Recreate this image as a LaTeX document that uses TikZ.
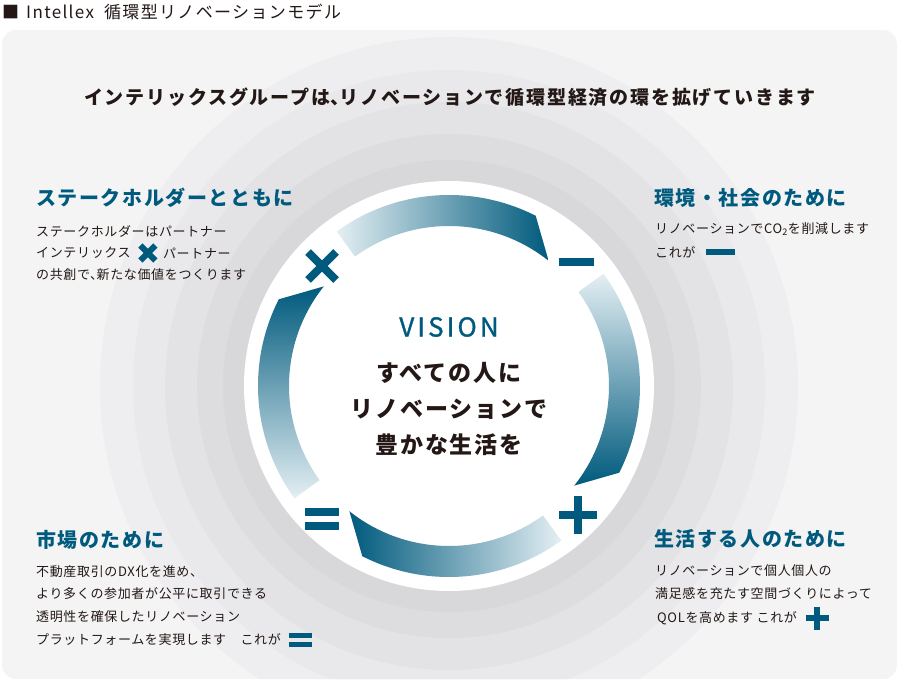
\documentclass[tikz,border=0pt]{standalone}
\usepackage{fontspec}
\setmainfont{Noto Sans CJK JP}
\usepackage{tikz}
\usetikzlibrary{positioning}

\definecolor{brand}{HTML}{005A7D}
\definecolor{ink}{HTML}{231815}
\definecolor{arclight}{HTML}{E4EFF3}
\definecolor{arcmid}{HTML}{3A8099}
\definecolor{arcdark}{HTML}{005A7D}
\definecolor{panelbg}{HTML}{F4F4F5}
\definecolor{ringA}{HTML}{EEEEF0}
\definecolor{ringB}{HTML}{E9E9EB}
\definecolor{ringC}{HTML}{E3E3E5}
\definecolor{ringD}{HTML}{DDDDDF}
\definecolor{ringE}{HTML}{D8D8DA}

\newcommand{\titlefont}{\fontsize{17}{20}\selectfont\addfontfeatures{LetterSpace=8}}
\newcommand{\leadfont}{\fontsize{19}{23}\selectfont\bfseries\addfontfeatures{LetterSpace=9.5}}
\newcommand{\headfont}{\fontsize{20}{24}\selectfont\bfseries\addfontfeatures{LetterSpace=8}}
\newcommand{\bodyfont}{\fontsize{13}{16}\selectfont\addfontfeatures{LetterSpace=5}}
\newcommand{\visionfont}{\fontsize{26}{30}\selectfont\addfontfeatures{LetterSpace=12,FakeBold=1.2}}
\newcommand{\centerfont}{\fontsize{23}{28}\selectfont\bfseries\addfontfeatures{LetterSpace=8}}
% ponctuation demi-chasse
\newcommand{\tou}{{\addfontfeatures{RawFeature=+halt}、}}

\tikzstyle{head}=[anchor=west,inner sep=0pt,text=brand,font=\headfont]
\tikzstyle{body}=[anchor=west,inner sep=0pt,text=ink,font=\bodyfont]
\tikzstyle{symline}=[draw=brand,line cap=butt]

\tikzset{
  pics/crossmark/.style={code={\draw[symline] (-#1,-#1)--(#1,#1) (-#1,#1)--(#1,-#1);}},
  pics/minusmark/.style={code={\draw[symline] (-#1,0)--(#1,0);}},
  pics/plusmark/.style={code={\draw[symline] (-#1,0)--(#1,0) (0,-#1)--(0,#1);}},
  pics/equalmark/.style={code={\draw[symline] (-#1,0.4*#1)--(#1,0.4*#1) (-#1,-0.4*#1)--(#1,-0.4*#1);}}
}

\begin{document}
\begin{tikzpicture}[x=1pt,y=1pt]

  \useasboundingbox (0,0) rectangle (898,-685);
  \fill[white] (0,0) rectangle (898,-685);

  % fond et anneaux
  \begin{scope}
    \clip[rounded corners=14pt] (2,-30) rectangle (897,-679);
    \fill[panelbg] (2,-30) rectangle (897,-679);
    \foreach \r/\c in {349/ringA,316/ringB,284/ringC,252/ringD,226/ringE}
      \fill[\c] (449,-386) circle[radius=\r];
  \end{scope}
  \fill[white] (449,-386) circle[radius=205];

  % les quatre fleches
  \begin{scope}[shift={(449,-386)}]
    \foreach \a/\s in {126/90,36/0,-54/-90,-144/180}
      \shade[top color=arclight,middle color=arcmid,bottom color=arcdark,shading angle=\s]
        (\a:191) arc[start angle=\a,end angle=\a-63,radius=191]
        -- (\a-74.5:160) arc[start angle=\a-74.5,end angle=\a,radius=160] -- cycle;
  \end{scope}

  \pic[line width=8pt] at (322,-266) {crossmark=14};
  \pic[line width=8pt] at (576,-262) {minusmark=17.5};
  \pic[line width=8pt] at (578,-515) {plusmark=19};
  \pic[line width=8pt] at (322,-519) {equalmark=17};

  \node[anchor=west,inner sep=0pt,text=ink,font=\titlefont] (title) at (2,-12) {■\hspace{7pt}Intellex\hspace{10pt}循環型リノベーションモデル};
  \node[inner sep=0pt,text=ink,font=\leadfont] (lead) at (450,-97) {インテリックスグループは\tou リノベーションで循環型経済の環を拡げていきます};

  \node[inner sep=0pt,text=brand,font=\visionfont] (vision) at (449,-327) {VISION};
  \node[inner sep=0pt,text=ink,font=\centerfont] (vis1) at (449,-373) {すべての人に};
  \node[inner sep=0pt,text=ink,font=\centerfont] (vis2) at (449,-409) {リノベーションで};
  \node[inner sep=0pt,text=ink,font=\centerfont] (vis3) at (449,-445) {豊かな生活を};

  % ステークホルダー
  \node[head] (stake) at (36,-198) {ステークホルダーとともに};
  \node[body] (stake1) at (36,-231) {ステークホルダーはパートナー};
  \node[body] (stake2) at (36,-253) {インテリックス};
  \coordinate[right=17pt of stake2.east] (stakex);
  \pic[line width=6pt] at (stakex) {crossmark=7.5};
  \node[body,right=15pt of stakex] (stake2b) {パートナー};
  \node[body] (stake3) at (36,-275) {の共創で\tou 新たな価値をつくります};

  % 環境・社会
  \node[head] (env) at (654,-198) {環境・社会のために};
  \node[body] (env1) at (655,-229) {リノベーションでCO\textsubscript{2}を削減します};
  \node[body] (env2) at (655,-252) {これが};
  \coordinate[right=25pt of env2.east] (envm);
  \pic[line width=6pt] at (envm) {minusmark=14.5};

  % 市場
  \node[head] (mkt) at (36,-540) {市場のために};
  \node[body] (mkt1) at (36,-572) {不動産取引のDX化を進め、};
  \node[body] (mkt2) at (36,-594) {より多くの参加者が公平に取引できる};
  \node[body] (mkt3) at (36,-617) {透明性を確保したリノベーション};
  \node[body] (mkt4) at (36,-640) {プラットフォームを実現します　これが};
  \coordinate[right=19pt of mkt4.east] (mkte);
  \pic[line width=5pt] at (mkte) {equalmark=11.5};

  % 生活する人
  \node[head] (life) at (654,-539) {生活する人のために};
  \node[body] (life1) at (655,-571) {リノベーションで個人個人の};
  \node[body] (life2) at (655,-594) {満足感を充たす空間づくりによって};
  \node[body] (life3) at (657,-618) {QOLを高めます これが};
  \coordinate[right=20pt of life3.east] (lifep);
  \pic[line width=6pt] at (lifep) {plusmark=11.5};

\end{tikzpicture}
\end{document}
